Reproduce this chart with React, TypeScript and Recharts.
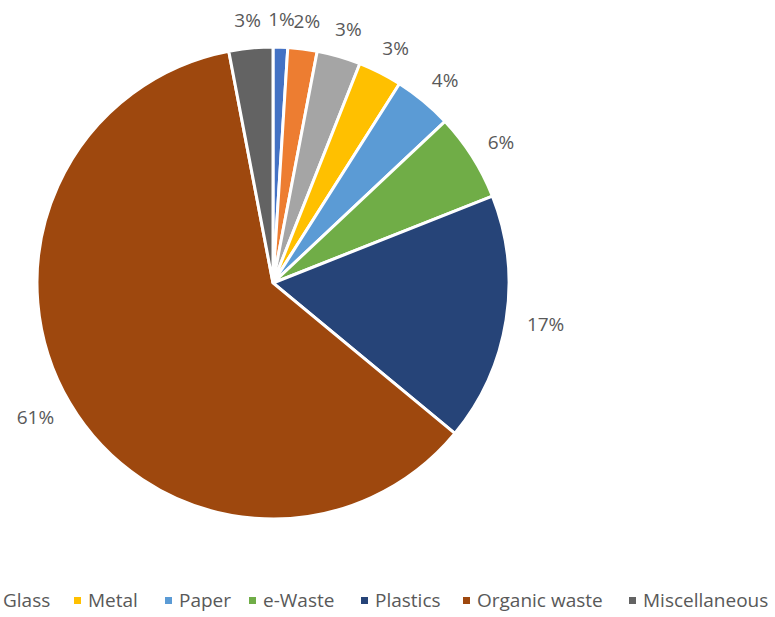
import { PieChart, Pie, Cell, Legend } from "recharts";

// waste composition (%), clockwise from 12 o'clock
const names = ["Textiles", "Wood", "Glass", "Metal", "Paper", "e-Waste", "Plastics", "Organic waste", "Miscellaneous"];
const shares = [1, 2, 3, 3, 4, 6, 17, 61, 3];
const COLORS = ["#4472C4", "#ED7D31", "#A5A5A5", "#FFC000", "#5B9BD5", "#70AD47", "#264478", "#9E480E", "#636363"];
// the legend in the source is clipped on the left; first visible entry is Glass
const FIRST_LEGEND = 2;
// left edge of each visible legend marker (px)
const LEGEND_X = [-11, 74, 165, 249, 361, 463, 629];

const data = names.map((name, i) => ({ name, value: shares[i] }));

const RAD = Math.PI / 180;
const FONT = "'Open Sans', sans-serif";

const renderLabel = (props: any) => {
  const { cx, cy, midAngle, outerRadius, value } = props;
  const dx = Math.cos(-midAngle * RAD);
  const dy = Math.sin(-midAngle * RAD);
  const text = `${value}%`;
  const w = String(value).length * 12 + 16;
  const h = 16;
  const r = outerRadius + 20;
  const x = cx + r * dx + (w / 2) * dx;
  const y = cy + r * dy + (h / 2) * dy;
  return (
    <text x={x} y={y} textAnchor="middle" dominantBaseline="central" fill="#595959" fontSize={19} fontFamily={FONT}>
      {text}
    </text>
  );
};

// built from our own arrays so the order follows the data, not the payload sort
const renderLegend = () => {
  const items = names.slice(FIRST_LEGEND).map((n, i) => ({ value: n, color: COLORS[i + FIRST_LEGEND] }));
  return (
    <div style={{ position: "relative", height: 30, overflow: "hidden", width: 775 }}>
      {items.map((it, i) => (
        <div
          key={i}
          style={{ position: "absolute", left: LEGEND_X[i], top: 0, display: "flex", alignItems: "center", whiteSpace: "nowrap" }}
        >
          <span style={{ width: 7, height: 7, background: it.color, display: "inline-block", marginRight: 7 }} />
          <span style={{ color: "#595959", fontSize: 19, fontFamily: FONT }}>{it.value}</span>
        </div>
      ))}
    </div>
  );
};

export default function App() {
  return (
    <div style={{ position: "absolute", left: 0, top: 0, width: 775, height: 617, overflow: "hidden", background: "#fff" }}>
      <PieChart width={775} height={617} margin={{ top: 0, right: 0, bottom: 0, left: 0 }}>
        <Pie
          data={data}
          dataKey="value"
          nameKey="name"
          cx={273}
          cy={283}
          outerRadius={236}
          startAngle={90}
          endAngle={-270}
          stroke="#fff"
          strokeWidth={3}
          label={renderLabel}
          labelLine={false}
          isAnimationActive={false}
        >
          {data.map((_, i) => (
            <Cell key={i} fill={COLORS[i]} />
          ))}
        </Pie>
        <Legend
          content={renderLegend}
          wrapperStyle={{ position: "absolute", left: 0, top: 587, width: 775 }}
        />
      </PieChart>
    </div>
  );
}
